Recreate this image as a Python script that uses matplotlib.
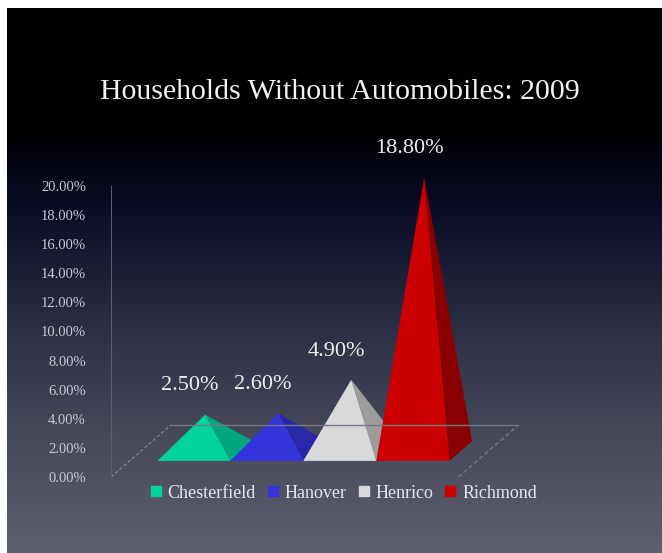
import numpy as np
import matplotlib
matplotlib.use("Agg")
import matplotlib.pyplot as plt
from matplotlib.colors import LinearSegmentedColormap
from matplotlib.lines import Line2D
from matplotlib.patches import Polygon

# data
counties = ["Chesterfield", "Hanover", "Henrico", "Richmond"]
pct_no_car = [2.5, 2.6, 4.9, 18.8]
front_colors = ["#00d49c", "#3434dc", "#d9d9d9", "#cc0000"]
side_colors = ["#00a67c", "#2828a8", "#9c9c9c", "#8a0000"]
yticks = np.arange(0, 21, 2)

W, H = 662, 553
plt.rcParams["font.family"] = ["Liberation Serif", "DejaVu Serif"]
fig = plt.figure(figsize=(W / 100, H / 100), dpi=100)

# slide background: black at the top fading to slate grey
bg = fig.add_axes([7 / W, 0, 1 - 7 / W, 1 - 8 / H])
cmap = LinearSegmentedColormap.from_list(
    "bg", [(0, "#000000"), (0.22, "#000000"), (0.36, "#090b25"),
           (0.6, "#2e3047"), (0.8, "#484a5d"), (1, "#5e606f")])
grad = np.linspace(0, 1, 256).reshape(-1, 1)
bg.imshow(grad, aspect="auto", cmap=cmap, extent=[0, 1, 0, 1])
bg.axis("off")

# chart axes (x in category units, y in percent)
x_lo, x_hi = -0.88, 4.8
px_cat, px_pct = 73, 14.55
ax = fig.add_axes([111 / W, (H - 477) / H, (x_hi - x_lo) * px_cat / W, 22 * px_pct / H])
ax.set_xlim(x_lo, x_hi)
ax.set_ylim(0, 22)
ax.patch.set_alpha(0)

# oblique depth offset per unit of floor depth
DX, DY = 60 / px_cat, 52 / px_pct


def proj(x, y, z):
    return (x + z * DX, y + z * DY)


floor_l, floor_r = -0.88, 3.88
ax.plot(*zip(proj(floor_l, 0, 0), proj(floor_r, 0, 0)), color="#4a4b5a", lw=1.2)
ax.plot(*zip(proj(floor_l, 0, 1), proj(floor_r, 0, 1)), color="#777886", lw=1)
ax.plot(*zip(proj(floor_r, 0, 0), proj(floor_r, 0, 1)), color="#777886", lw=1, ls=(0, (3, 2)))
ax.plot(*zip(proj(floor_l, 0, 0), proj(floor_l, 0, 1)), color="#8a8b98", lw=0.8, ls=(0, (3, 2)))

z0, z1 = 0.31, 0.69
for i, (v, fc, sc) in enumerate(zip(pct_no_car, front_colors, side_colors)):
    apex = proj(i, v, 0.5)
    side = [proj(i + 0.5, 0, z0), proj(i + 0.5, 0, z1), apex]
    front = [proj(i - 0.5, 0, z0), proj(i + 0.5, 0, z0), apex]
    ax.add_patch(Polygon(side, closed=True, facecolor=sc, edgecolor="none"))
    ax.add_patch(Polygon(front, closed=True, facecolor=fc, edgecolor="none"))
    ax.annotate(f"{v:.2f}%", xy=proj(i, v, 0.25), xytext=(0, 30), textcoords="offset points",
                ha="center", va="center", fontsize=16, color="#eeeeee")

ax.set_yticks(yticks)
ax.set_yticklabels([f"{t:.2f}%" for t in yticks])
ax.set_xticks([])
ax.tick_params(axis="y", length=0, pad=18, labelsize=10.5, labelcolor="#c9c9d2")
for s in ["top", "right", "bottom"]:
    ax.spines[s].set_visible(False)
ax.spines["left"].set_bounds(0, 20)
ax.spines["left"].set_color("#5c5e70")

fig.text(340 / W, 1 - 92 / H, "Households Without Automobiles: 2009",
         ha="center", va="center", fontsize=21.5, color="#f2f2f2")

handles = [Line2D([], [], marker="s", linestyle="none", markersize=7, color=c) for c in front_colors]
fig.legend(handles, counties, loc="center", bbox_to_anchor=(343 / W, 1 - 493 / H), ncol=4,
           frameon=False, fontsize=13, handlelength=0.7, handletextpad=0.3,
           columnspacing=0.6, labelcolor="#e6e6ea")

fig.savefig("out.png", dpi=100)
